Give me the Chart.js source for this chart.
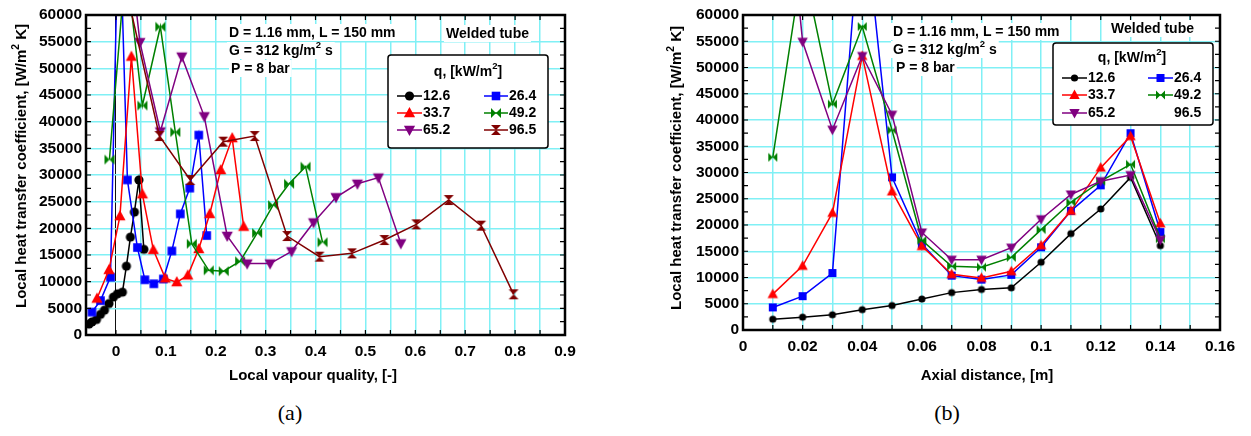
<!DOCTYPE html>
<html>
<head>
<meta charset="utf-8">
<script src="https://cdn.jsdelivr.net/npm/chart.js@4.4.1/dist/chart.umd.min.js"></script>
<style>
    body { margin: 0; background: #fff; width: 1251px; height: 436px; position: relative; overflow: hidden; }
    #caixaA { position: absolute; left: 0; top: 0; width: 600px; height: 400px; }
    #caixaB { position: absolute; left: 640px; top: 0; width: 611px; height: 400px; }
    .legenda-fig { position: absolute; top: 413px; transform: translate(-50%, -50%); font-family: "Liberation Serif", "DejaVu Serif", serif; font-size: 22px; color: #000; }
</style>
</head>
<body>
<div id="caixaA"><canvas id="graficoA" width="600" height="400"></canvas></div>
<div id="caixaB"><canvas id="graficoB" width="611" height="400"></canvas></div>
<div class="legenda-fig" style="left: 290px;">(a)</div>
<div class="legenda-fig" style="left: 947px;">(b)</div>
<script>
// fluxos de calor q [kW/m2], cores e simbolos de cada serie
const fluxos = ['12.6', '26.4', '33.7', '49.2', '65.2', '96.5'];
const cores = ['#000000', '#0000ff', '#ff0000', '#008000', '#800080', '#800000'];
const simbolos = ['circulo', 'quadrado', 'triangulo', 'gravata', 'invertido', 'ampulheta'];

// distancia axial [m] (grafico b)
const distancia = [0.01, 0.02, 0.03, 0.04, 0.05, 0.06, 0.07, 0.08, 0.09, 0.10, 0.11, 0.12, 0.13, 0.14];

// coeficiente local de transferencia de calor [W/m2 K]
const h126 = [2050, 2450, 2900, 3870, 4660, 5900, 7120, 7720, 8030, 12910, 18360, 23050, 29070, 16060];
const h264 = [4300, 6450, 10850, 83000, 29080, 16400, 10350, 9600, 10500, 15750, 22700, 27550, 37480, 18650];
const h337 = [6840, 12220, 22300, 52200, 26400, 15970, 10620, 9920, 11180, 16130, 22700, 30930, 36920, 20320];
const h492 = [32900, 70000, 43030, 57800, 38050, 17100, 12130, 11970, 13830, 19120, 24340, 28350, 31560, 17400];
const h652 = [112000, 54900, 38150, 52190, 41000, 18580, 13390, 13390, 15690, 21100, 25820, 28350, 29510, 17170];
const h965 = [65000, 37310, 29060, 36250, 37310, 18560, 14690, 15310, 17810, 20750, 25310, 20500, 7630];

// titulo local de vapor [-] (grafico a)
const x126 = [-0.054, -0.048, -0.039, -0.031, -0.023, -0.014, -0.005, 0.003, 0.013, 0.021, 0.029, 0.037, 0.046, 0.056];
const x264 = [-0.048, -0.031, -0.011, 0.006, 0.023, 0.043, 0.058, 0.076, 0.095, 0.112, 0.129, 0.148, 0.166, 0.182];
const x337 = [-0.038, -0.014, 0.008, 0.031, 0.053, 0.075, 0.099, 0.122, 0.144, 0.166, 0.188, 0.210, 0.233, 0.256];
const x492 = [-0.013, 0.020, 0.053, 0.089, 0.119, 0.152, 0.186, 0.216, 0.249, 0.283, 0.315, 0.347, 0.380, 0.414];
const x652 = [-0.02, 0.048, 0.089, 0.132, 0.177, 0.223, 0.263, 0.309, 0.352, 0.396, 0.441, 0.484, 0.526, 0.571];
const x965 = [0.02, 0.087, 0.149, 0.215, 0.278, 0.343, 0.408, 0.473, 0.538, 0.602, 0.667, 0.732, 0.797];

const fonte = '"Liberation Sans", Arial, Helvetica, sans-serif';
const corGrade = 'rgb(128,240,245)';

function desenharSimbolo(ctx, tipo, x, y, r, cor) {
    ctx.save();
    ctx.fillStyle = cor;
    ctx.beginPath();
    if (tipo == 'circulo') {
        ctx.arc(x, y, r, 0, Math.PI * 2);
    } else if (tipo == 'quadrado') {
        ctx.rect(x - r, y - r, 2 * r, 2 * r);
    } else if (tipo == 'triangulo') {
        ctx.moveTo(x, y - r * 1.05);
        ctx.lineTo(x + r, y + r * 0.75);
        ctx.lineTo(x - r, y + r * 0.75);
        ctx.closePath();
    } else if (tipo == 'invertido') {
        ctx.moveTo(x, y + r * 1.05);
        ctx.lineTo(x + r, y - r * 0.75);
        ctx.lineTo(x - r, y - r * 0.75);
        ctx.closePath();
    } else if (tipo == 'gravata') {
        ctx.moveTo(x - r, y - r);
        ctx.lineTo(x, y);
        ctx.lineTo(x - r, y + r);
        ctx.closePath();
        ctx.moveTo(x + r, y - r);
        ctx.lineTo(x, y);
        ctx.lineTo(x + r, y + r);
        ctx.closePath();
    } else if (tipo == 'ampulheta') {
        ctx.moveTo(x - r, y - r);
        ctx.lineTo(x + r, y - r);
        ctx.lineTo(x, y);
        ctx.closePath();
        ctx.moveTo(x - r, y + r);
        ctx.lineTo(x + r, y + r);
        ctx.lineTo(x, y);
        ctx.closePath();
    }
    ctx.fill();
    ctx.restore();
}

// imagem do simbolo para usar como pointStyle
function criarImagem(tipo, r, cor) {
    const c = document.createElement('canvas');
    const lado = Math.ceil(2 * r + 4);
    c.width = lado;
    c.height = lado;
    desenharSimbolo(c.getContext('2d'), tipo, lado / 2, lado / 2, r, cor);
    return c;
}

// texto com expoente: trechos entre ^ ficam sobrescritos
function textoRico(ctx, texto, x, y, tam, alinhar) {
    const partes = texto.split('^');
    let largura = 0;
    partes.forEach((p, i) => {
        ctx.font = 'bold ' + (i % 2 ? tam * 0.68 : tam) + 'px ' + fonte;
        largura += ctx.measureText(p).width;
    });
    let cx = alinhar == 'center' ? x - largura / 2 : x;
    partes.forEach((p, i) => {
        ctx.font = 'bold ' + (i % 2 ? tam * 0.68 : tam) + 'px ' + fonte;
        ctx.fillText(p, cx, i % 2 ? y - tam * 0.42 : y);
        cx += ctx.measureText(p).width;
    });
    return largura;
}

function montarSerie(xs, ys) {
    return xs.map((x, i) => ({ x: x, y: ys[i] }));
}

function pluginDecoracao(cfg) {
    return {
        id: 'decoracao',
        afterDatasetsDraw(chart) {
            const ctx = chart.ctx;
            ctx.save();
            ctx.textBaseline = 'middle';
            ctx.fillStyle = '#000';

            // anotacoes com fundo branco
            cfg.textos.forEach(t => {
                ctx.font = 'bold 14px ' + fonte;
                const partes = t.t.split('^');
                let w = 0;
                partes.forEach((p, i) => {
                    ctx.font = 'bold ' + (i % 2 ? 14 * 0.68 : 14) + 'px ' + fonte;
                    w += ctx.measureText(p).width;
                });
                ctx.fillStyle = '#fff';
                ctx.fillRect(t.x - 2, t.y - 9, w + 4, 17);
                ctx.fillStyle = '#000';
                textoRico(ctx, t.t, t.x, t.y, 14, 'left');
            });

            // legenda
            const L = cfg.legenda;
            ctx.fillStyle = '#fff';
            ctx.strokeStyle = '#000';
            ctx.lineWidth = 1.5;
            ctx.beginPath();
            ctx.roundRect(L.caixa[0], L.caixa[1], L.caixa[2], L.caixa[3], 3);
            ctx.fill();
            ctx.stroke();
            ctx.fillStyle = '#000';
            textoRico(ctx, 'q, [kW/m^2^]', L.titulo[0], L.titulo[1], 14, 'center');

            fluxos.forEach((f, i) => {
                const lin = L.linhas[Math.floor(i / 2)];
                const col = L.colunas[i % 2];
                if (!cfg.semSimbolo.includes(i)) {
                    ctx.strokeStyle = cores[i];
                    ctx.lineWidth = 1.5;
                    ctx.beginPath();
                    ctx.moveTo(col[0], lin);
                    ctx.lineTo(col[1], lin);
                    ctx.stroke();
                    desenharSimbolo(ctx, simbolos[i], (col[0] + col[1]) / 2, lin, cfg.raios[i], cores[i]);
                }
                ctx.fillStyle = '#000';
                ctx.font = 'bold 14px ' + fonte;
                ctx.fillText(f, col[2], lin);
            });
            ctx.restore();
        },
        afterDraw(chart) {
            const ctx = chart.ctx;
            const a = chart.chartArea;
            const sx = chart.scales.x;
            const sy = chart.scales.y;
            ctx.save();

            // marcas internas nos quatro lados
            ctx.strokeStyle = '#000';
            ctx.lineWidth = 1.2;
            ctx.beginPath();
            for (let v = cfg.marcaX[0]; v <= sx.max + 1e-9; v += cfg.marcaX[1]) {
                const px = sx.getPixelForValue(v);
                ctx.moveTo(px, a.bottom);
                ctx.lineTo(px, a.bottom - 5);
                ctx.moveTo(px, a.top);
                ctx.lineTo(px, a.top + 5);
            }
            for (let v = 0; v <= sy.max; v += 2500) {
                const py = sy.getPixelForValue(v);
                ctx.moveTo(a.left, py);
                ctx.lineTo(a.left + 5, py);
                ctx.moveTo(a.right, py);
                ctx.lineTo(a.right - 5, py);
            }
            ctx.stroke();

            // moldura
            ctx.lineWidth = 2.5;
            ctx.strokeRect(a.left, a.top, a.right - a.left, a.bottom - a.top);

            // titulos dos eixos
            ctx.fillStyle = '#000';
            ctx.textBaseline = 'middle';
            textoRico(ctx, cfg.tituloX.t, cfg.tituloX.x, cfg.tituloX.y, 15, 'center');
            ctx.translate(cfg.tituloY.x, cfg.tituloY.y);
            ctx.rotate(-Math.PI / 2);
            textoRico(ctx, cfg.tituloY.t, 0, 0, 15, 'center');
            ctx.restore();
        }
    };
}

function montarDatasets(series, raios) {
    return series.map((s, i) => ({
        label: fluxos[s.i],
        data: s.dados,
        borderColor: cores[s.i],
        backgroundColor: cores[s.i],
        borderWidth: 1.5,
        tension: 0,
        fill: false,
        pointStyle: criarImagem(simbolos[s.i], raios[s.i], cores[s.i]),
        pointRadius: 5,
        order: 10 - s.i
    }));
}

const fonteTicks = { family: fonte, size: 15.5, weight: 'bold' };

// grafico (a): coeficiente x titulo de vapor
const raiosA = [4.6, 4.3, 5.6, 5, 5.6, 5];
new Chart(document.getElementById('graficoA'), {
    type: 'line',
    data: {
        datasets: montarDatasets([
            { i: 0, dados: montarSerie(x126, h126) },
            { i: 1, dados: montarSerie(x264, h264) },
            { i: 2, dados: montarSerie(x337, h337) },
            { i: 3, dados: montarSerie(x492, h492) },
            { i: 4, dados: montarSerie(x652, h652) },
            { i: 5, dados: montarSerie(x965, h965) }
        ], raiosA)
    },
    options: {
        responsive: false,
        animation: false,
        layout: { padding: { top: 15, right: 35, left: 0, bottom: 0 } },
        plugins: { legend: { display: false }, tooltip: { enabled: false } },
        scales: {
            x: {
                type: 'linear',
                min: -0.06,
                max: 0.9,
                afterFit: function (s) { s.height = 65; },
                border: { display: false },
                grid: {
                    drawTicks: false,
                    color: c => (c.tick.value == 0 ? '#111' : (c.tick.value < 0 ? 'rgba(0,0,0,0)' : corGrade)),
                    lineWidth: c => (c.tick.value == 0 ? 1 : 1.5)
                },
                ticks: {
                    stepSize: 0.05,
                    autoSkip: false,
                    maxRotation: 0,
                    padding: 7,
                    color: '#000',
                    font: fonteTicks,
                    callback: function (v) {
                        const d = Math.round(v * 100);
                        if (d < 0 || d % 10 != 0) return '';
                        return String(d / 100);
                    }
                }
            },
            y: {
                min: 0,
                max: 60000,
                afterFit: function (s) { s.width = 86; },
                border: { display: false },
                grid: { drawTicks: false, color: corGrade, lineWidth: 1.5 },
                ticks: {
                    stepSize: 5000,
                    padding: 4,
                    color: '#000',
                    font: fonteTicks,
                    callback: v => String(v)
                }
            }
        }
    },
    plugins: [pluginDecoracao({
        textos: [
            { t: 'D = 1.16 mm, L = 150 mm', x: 229, y: 33 },
            { t: 'G = 312 kg/m^2^ s', x: 229, y: 51 },
            { t: 'P = 8 bar', x: 231, y: 69 },
            { t: 'Welded tube', x: 446, y: 34 }
        ],
        legenda: {
            caixa: [388, 55, 160, 93],
            titulo: [468, 72],
            linhas: [96, 113, 130],
            colunas: [[397, 422, 423], [484, 508, 509]]
        },
        semSimbolo: [],
        raios: raiosA,
        marcaX: [0, 0.05],
        tituloX: { t: 'Local vapour quality, [-]', x: 313, y: 376 },
        tituloY: { t: 'Local heat transfer coefficient, [W/m^2^ K]', x: 22, y: 166 }
    })]
});

// grafico (b): coeficiente x distancia axial
const raiosB = [3.6, 4, 5.2, 4.5, 5.2, 4.5];
new Chart(document.getElementById('graficoB'), {
    type: 'line',
    data: {
        datasets: montarDatasets([
            { i: 0, dados: montarSerie(distancia, h126) },
            { i: 1, dados: montarSerie(distancia, h264) },
            { i: 2, dados: montarSerie(distancia, h337) },
            { i: 3, dados: montarSerie(distancia, h492) },
            { i: 4, dados: montarSerie(distancia, h652) }
        ], raiosB)
    },
    options: {
        responsive: false,
        animation: false,
        layout: { padding: { top: 15, right: 31, left: 0, bottom: 0 } },
        plugins: { legend: { display: false }, tooltip: { enabled: false } },
        scales: {
            x: {
                type: 'linear',
                min: 0,
                max: 0.16,
                afterFit: function (s) { s.height = 70; },
                border: { display: false },
                grid: { drawTicks: false, color: corGrade, lineWidth: 1.5 },
                ticks: {
                    stepSize: 0.01,
                    autoSkip: false,
                    maxRotation: 0,
                    padding: 7,
                    color: '#000',
                    font: fonteTicks,
                    callback: function (v) {
                        const d = Math.round(v * 100);
                        if (d % 2 != 0) return '';
                        return String(d / 100);
                    }
                }
            },
            y: {
                min: 0,
                max: 60000,
                afterFit: function (s) { s.width = 103; },
                border: { display: false },
                grid: { drawTicks: false, color: corGrade, lineWidth: 1.5 },
                ticks: {
                    stepSize: 5000,
                    padding: 4,
                    color: '#000',
                    font: fonteTicks,
                    callback: v => String(v)
                }
            }
        }
    },
    plugins: [pluginDecoracao({
        textos: [
            { t: 'D = 1.16 mm, L = 150 mm', x: 253, y: 32 },
            { t: 'G = 312 kg/m^2^ s', x: 253, y: 50 },
            { t: 'P = 8 bar', x: 256, y: 68 },
            { t: 'Welded tube', x: 471, y: 29 }
        ],
        legenda: {
            caixa: [413, 43, 160, 82],
            titulo: [492, 58],
            linhas: [78, 95, 113],
            colunas: [[422, 447, 448], [508, 533, 534]]
        },
        semSimbolo: [5],
        raios: raiosB,
        marcaX: [0, 0.01],
        tituloX: { t: 'Axial distance, [m]', x: 347, y: 376 },
        tituloY: { t: 'Local heat transfer coefficient, [W/m^2^ K]', x: 37, y: 168 }
    })]
});
</script>
</body>
</html>
